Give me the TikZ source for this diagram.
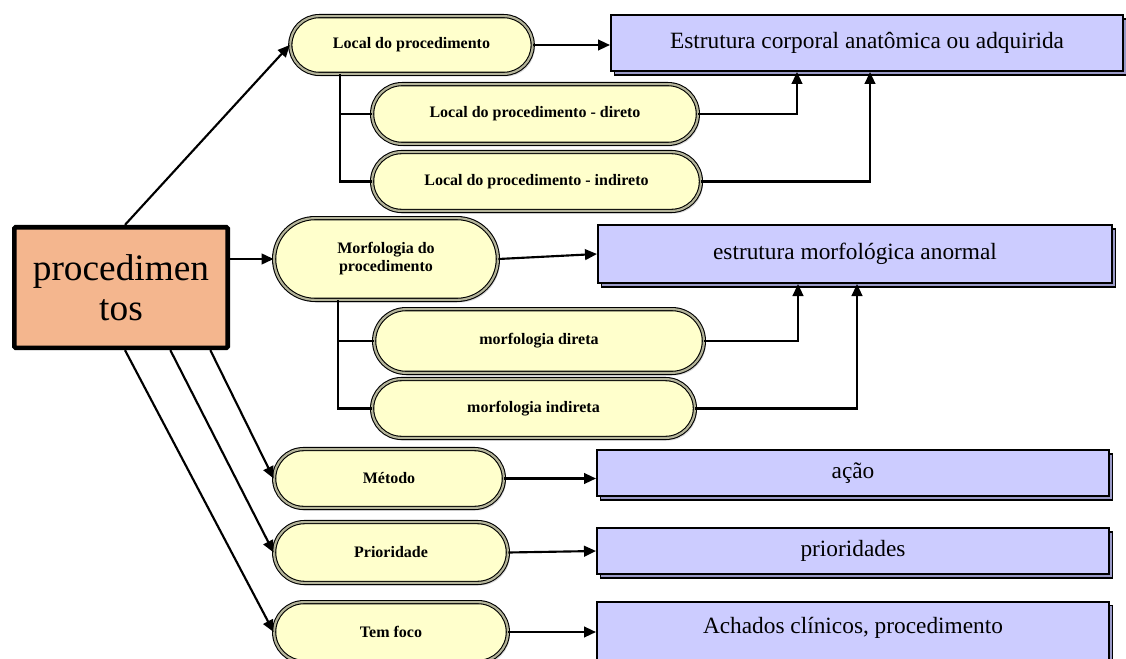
\documentclass[tikz,border=0pt]{standalone}
\usepackage{fontspec}
\setmainfont{Liberation Serif}
\usetikzlibrary{shapes.misc,shadows,arrows.meta}
\definecolor{pillfill}{HTML}{FFFFCC}
\definecolor{pillband}{HTML}{B4B49A}
\definecolor{boxfill}{HTML}{CCCCFF}
\definecolor{boxshade}{HTML}{9A9AC8}
\definecolor{rootfill}{HTML}{F4B68E}

\begin{document}
\begin{tikzpicture}[x=0.75pt,y=-0.75pt,
  pill/.style={rounded rectangle, fill=pillfill, draw=black, line width=0.8pt,
    double=pillband, double distance=1.6pt, inner sep=0pt, align=center,
    font=\bfseries\fontsize{12}{13.5}\selectfont,
    drop shadow={shadow xshift=1.5pt, shadow yshift=-2pt, opacity=0.3}},
  term/.style={rectangle, fill=boxfill, draw=black, line width=1.5pt, inner sep=0pt,
    font=\fontsize{17.5}{20}\selectfont,
    general shadow={shadow xshift=2.5pt, shadow yshift=-3pt, fill=boxshade,
      draw=black, line width=0.8pt}},
  root/.style={rectangle, fill=rootfill, draw=black, line width=3.5pt,
    rounded corners=1pt, inner sep=0pt, align=center,
    font=\fontsize{28}{30}\selectfont,
    drop shadow={shadow xshift=1.5pt, shadow yshift=-1.5pt, opacity=0.3}},
  link/.style={draw=black, line width=1.6pt},
  arr/.style={link, -{Triangle[length=9pt,width=8pt]}}
]
\useasboundingbox (0,0) rectangle (1126,659);
\clip (0,0) rectangle (1126,659);

% root concept
\node[root, minimum width=160pt, minimum height=90.5pt] (root) at (121,287.5) {procedimen\\tos};

% attribute pills
\node[pill, minimum width=181.8pt, minimum height=43.3pt] (local) at (411.5,45) {Local do procedimento};
\node[pill, minimum width=244.3pt, minimum height=44.8pt] (ldireto) at (535,114) {Local do procedimento - direto};
\node[pill, minimum width=246.6pt, minimum height=44.1pt] (lindireto) at (536.5,181.5) {Local do procedimento - indireto};
\node[pill, minimum width=167.8pt, minimum height=61.3pt] (morf) at (386,259) {Morfologia do\\procedimento};
\node[pill, minimum width=247.3pt, minimum height=47.8pt] (mdireta) at (539,341) {morfologia direta};
\node[pill, minimum width=242.1pt, minimum height=44.1pt] (mindireta) at (533.5,408.5) {morfologia indireta};
\node[pill, minimum width=172.3pt, minimum height=44.1pt] (metodo) at (389,478.5) {Método};
\node[pill, minimum width=175.3pt, minimum height=45.6pt] (prior) at (391,552.5) {Prioridade};
\node[pill, minimum width=175.3pt, minimum height=44.8pt] (foco) at (391,632) {Tem foco};

% value boxes
\node[term, minimum width=384pt, minimum height=42pt] (A) at (867,43) {Estrutura corporal anatômica ou adquirida};
\node[term, minimum width=385.5pt, minimum height=43.5pt] (B) at (855,254) {estrutura morfológica anormal};
\node[term, minimum width=384pt, minimum height=34.5pt] (C) at (853,473) {ação};
\node[term, minimum width=384pt, minimum height=34.5pt] (D) at (853,551) {prioridades};
\node[term, minimum width=384pt, minimum height=72.5pt] (E) at (853,650) {};
\node[font=\fontsize{17.5}{20}\selectfont, inner sep=0pt] (Etext) at (853,628) {Achados clínicos, procedimento};

% root to attributes
\draw[arr] ([xshift=3pt]root.north) -- (local.west);
\draw[arr] (root.east |- morf.west) -- (morf.west);
\draw[arr] ([xshift=67pt]root.south) -- (metodo.west);
\draw[arr] ([xshift=37pt]root.south) -- (prior.west);
\draw[arr] ([xshift=3pt]root.south) -- (foco.west);

% local subtree
\coordinate (lt) at ([xshift=-53.6pt]local.south);
\draw[link] (lt) |- (ldireto.west);
\draw[link] (lt) |- (lindireto.west);
\draw[arr] (local.east) -- (local.east -| A.west);
\draw[arr] (ldireto.east) -| ([xshift=-52.5pt]A.south);
\draw[arr] (lindireto.east) -| ([xshift=2.25pt]A.south);

% morphology subtree
\coordinate (mt) at ([xshift=-36pt]morf.south);
\draw[link] (mt) |- (mdireta.west);
\draw[link] (mt) |- (mindireta.west);
\draw[arr] (morf.east) -- (B.west);
\draw[arr] (mdireta.east) -| ([xshift=-42.75pt]B.south);
\draw[arr] (mindireta.east) -| ([xshift=1.5pt]B.south);

% remaining attributes
\draw[arr] (metodo.east) -- (metodo.east -| C.west);
\draw[arr] (prior.east) -- (D.west);
\draw[arr] (foco.east) -- (foco.east -| E.west);
\end{tikzpicture}
\end{document}
